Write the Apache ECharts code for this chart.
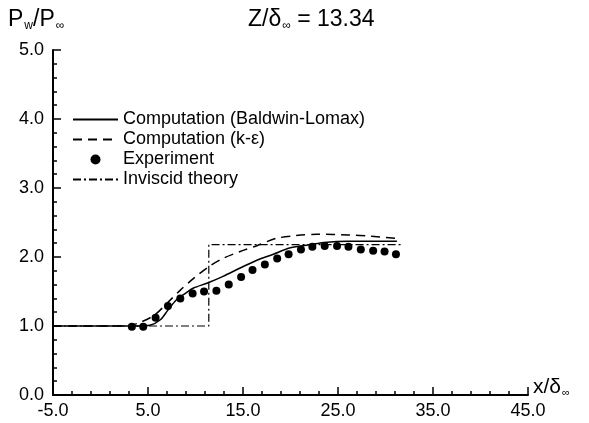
<!DOCTYPE html>
<html>
<head>
<meta charset="utf-8">
<script src="https://cdn.jsdelivr.net/npm/echarts@6/dist/echarts.min.js"></script>
<style>
  html, body { margin: 0; padding: 0; background: #fff; }
  #chart { width: 589px; height: 423px; }
</style>
</head>
<body>
<div id="chart"></div>
<script>
// Baldwin-Lomax computation
const blX = [-5, 0, 4.0, 5.2, 6.3, 7.1, 8.0, 8.9, 9.8, 11.2, 12.9, 14.7, 16.4, 18.2, 19.9, 21.7, 23.5, 26.1, 28.5, 31.2]
const blY = [1.0, 1.0, 1.0, 1.01, 1.09, 1.23, 1.38, 1.47, 1.55, 1.62, 1.72, 1.84, 1.95, 2.04, 2.13, 2.17, 2.21, 2.23, 2.23, 2.23]
// k-epsilon computation
const keX = [-5, 0, 3.1, 4.3, 5.7, 7.0, 8.4, 9.8, 11.4, 12.9, 14.7, 16.4, 18.5, 20.6, 22.8, 26.1, 28.5, 31.0]
const keY = [1.0, 1.0, 1.01, 1.06, 1.16, 1.33, 1.52, 1.69, 1.86, 1.98, 2.08, 2.16, 2.27, 2.31, 2.33, 2.32, 2.30, 2.27]
// experiment
const expX = [3.3, 4.5, 5.8, 7.1, 8.4, 9.7, 10.9, 12.2, 13.5, 14.8, 16.0, 17.3, 18.6, 19.8, 21.1, 22.3, 23.6, 24.9, 26.1, 27.4, 28.7, 29.9, 31.1]
const expY = [0.99, 0.99, 1.12, 1.29, 1.40, 1.47, 1.50, 1.51, 1.60, 1.71, 1.81, 1.89, 1.98, 2.04, 2.11, 2.15, 2.16, 2.16, 2.15, 2.11, 2.09, 2.08, 2.04]
// inviscid theory
const invX = [-5, 11.4, 11.4, 31.8]
const invY = [1.0, 1.0, 2.18, 2.18]

const names = ['Computation (Baldwin-Lomax)', 'Computation (k-ε)', 'Experiment', 'Inviscid theory']

const pairs = (xs, ys) => xs.map((x, i) => [x, ys[i]])

const font = 'Liberation Sans, Arial, Helvetica, sans-serif'
const titleRich = {
  m: { fontSize: 23, fontFamily: font, color: '#000', fontWeight: 'normal' },
  s: { fontSize: 12, fontFamily: font, color: '#000', fontWeight: 'normal', padding: [12, 0, 0, 1] }
}
const nameRich = {
  m: { fontSize: 21, fontFamily: font, color: '#000' },
  s: { fontSize: 11, fontFamily: font, color: '#000', padding: [11, 0, 0, 1] }
}
const hidden = { color: 'rgba(0,0,0,0)', borderWidth: 0 }

const chart = echarts.init(document.getElementById('chart'))
chart.setOption({
  animation: false,
  backgroundColor: '#fff',
  title: [
    { text: '{m|P}{s|w}{m|/P}{s|∞}', left: 3, top: 3, textStyle: { rich: titleRich } },
    { text: '{m|Z/δ}{s|∞}{m| = 13.34}', left: 243, top: 3, textStyle: { rich: titleRich } }
  ],
  legend: {
    data: [
      { name: names[0], itemStyle: hidden },
      { name: names[1], itemStyle: hidden },
      { name: names[2] },
      { name: names[3], itemStyle: hidden }
    ],
    orient: 'vertical',
    left: 67,
    top: 105,
    itemWidth: 45,
    itemHeight: 10,
    itemGap: 1,
    selectedMode: false,
    textStyle: { fontSize: 18, lineHeight: 19, fontFamily: font, color: '#000' }
  },
  grid: { left: 53, right: 61, top: 50, bottom: 28 },
  xAxis: {
    type: 'value',
    min: -5,
    max: 45,
    interval: 10,
    name: '{m|x/δ}{s|∞}',
    nameLocation: 'end',
    nameGap: 5,
    nameTextStyle: { rich: nameRich, padding: [0, 0, 16, 0] },
    axisLine: { lineStyle: { color: '#000', width: 2 } },
    axisTick: { inside: true, length: 8, lineStyle: { color: '#000', width: 1.5 } },
    minorTick: { show: true, splitNumber: 5, length: 4, lineStyle: { color: '#000', width: 1.5 } },
    axisLabel: { fontSize: 18, fontFamily: font, color: '#000', margin: 7, formatter: v => v.toFixed(1) },
    splitLine: { show: false }
  },
  yAxis: {
    type: 'value',
    min: 0,
    max: 5,
    interval: 1,
    axisLine: { show: true, onZero: false, lineStyle: { color: '#000', width: 2 } },
    axisTick: { show: true, inside: true, length: 8, lineStyle: { color: '#000', width: 1.5 } },
    minorTick: { show: true, splitNumber: 5, length: 4, lineStyle: { color: '#000', width: 1.5 } },
    axisLabel: { fontSize: 18, fontFamily: font, color: '#000', margin: 9, formatter: v => v.toFixed(1) },
    splitLine: { show: false }
  },
  series: [
    {
      name: names[0],
      type: 'line',
      data: pairs(blX, blY),
      smooth: 0.3,
      symbol: 'none',
      color: '#000',
      lineStyle: { color: '#000', width: 1.5 }
    },
    {
      name: names[1],
      type: 'line',
      data: pairs(keX, keY),
      smooth: 0.3,
      symbol: 'none',
      color: '#000',
      lineStyle: { color: '#000', width: 1.5, type: [9, 6] }
    },
    {
      name: names[2],
      type: 'scatter',
      data: pairs(expX, expY),
      symbol: 'circle',
      symbolSize: 8,
      itemStyle: { color: '#000', opacity: 1 }
    },
    {
      name: names[3],
      type: 'line',
      data: pairs(invX, invY),
      symbol: 'none',
      color: '#000',
      lineStyle: { color: '#000', width: 1.2, type: [8, 3, 2, 3] }
    }
  ]
})
</script>
</body>
</html>
